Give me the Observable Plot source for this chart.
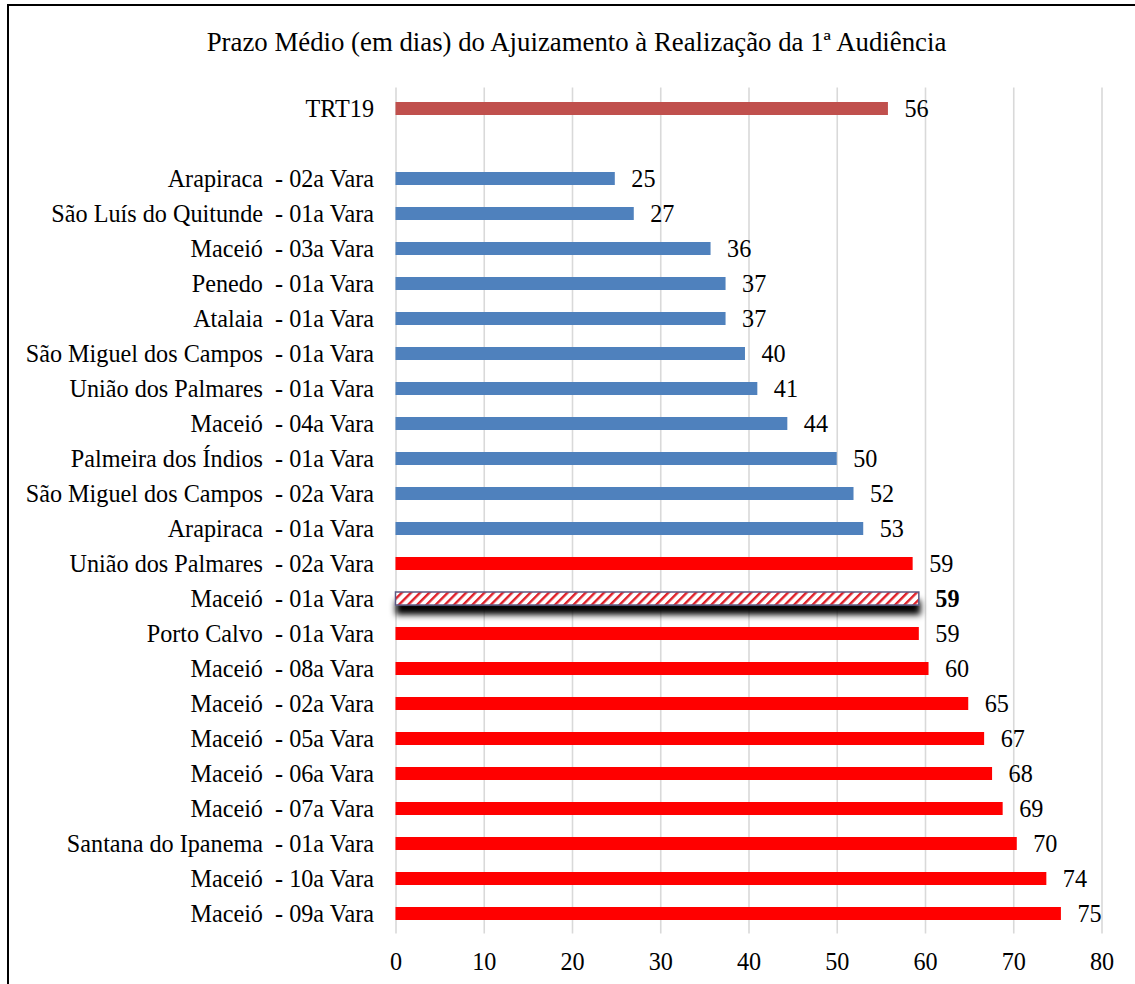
<!DOCTYPE html>
<html><head><meta charset="utf-8">
<script src="https://cdn.jsdelivr.net/npm/d3@7"></script>
<script src="https://cdn.jsdelivr.net/npm/@observablehq/plot@0.6"></script>
<style>
html,body{margin:0;padding:0;background:#fff;overflow:hidden;}
#wrap{position:relative;width:1135px;height:984px;overflow:hidden;font-family:"Liberation Serif","Times New Roman",serif;background:#fff;}
#frame{position:absolute;left:7px;top:4px;width:1400px;height:1400px;border:2.7px solid #000;box-sizing:border-box;pointer-events:none;}
#title{position:absolute;left:0;width:1153px;top:28.5px;text-align:center;font-size:26.8px;line-height:26.8px;color:#000;white-space:nowrap;}
#chart{position:absolute;left:0;top:0;}
</style>
</head><body>
<div id="wrap">
  <div id="chart"></div>
  <div id="title">Prazo Médio (em dias) do Ajuizamento à Realização da 1ª Audiência</div>
  <div id="frame"></div>
</div>
<script>
// ---- data ----
const names = [
  "TRT19",
  "Arapiraca  - 02a Vara",
  "São Luís do Quitunde  - 01a Vara",
  "Maceió  - 03a Vara",
  "Penedo  - 01a Vara",
  "Atalaia  - 01a Vara",
  "São Miguel dos Campos  - 01a Vara",
  "União dos Palmares  - 01a Vara",
  "Maceió  - 04a Vara",
  "Palmeira dos Índios  - 01a Vara",
  "São Miguel dos Campos  - 02a Vara",
  "Arapiraca  - 01a Vara",
  "União dos Palmares  - 02a Vara",
  "Maceió  - 01a Vara",
  "Porto Calvo  - 01a Vara",
  "Maceió  - 08a Vara",
  "Maceió  - 02a Vara",
  "Maceió  - 05a Vara",
  "Maceió  - 06a Vara",
  "Maceió  - 07a Vara",
  "Santana do Ipanema  - 01a Vara",
  "Maceió  - 10a Vara",
  "Maceió  - 09a Vara"
];
const values = [
  55.8,
  24.85, 27.0, 35.7, 37.4, 37.4, 39.6, 41.0, 44.4, 50.0, 51.9, 53.0,
  58.6, 59.3, 59.3, 60.4, 64.9, 66.7, 67.6, 68.8, 70.4, 73.75, 75.4
];
const groups = [
  "tribunal",
  "abaixo", "abaixo", "abaixo", "abaixo", "abaixo", "abaixo", "abaixo", "abaixo", "abaixo", "abaixo", "abaixo",
  "acima", "acima", "acima", "acima", "acima", "acima", "acima", "acima", "acima", "acima", "acima"
];
const highlighted = "Maceió  - 01a Vara";
const spacer = " ";
const xTicks = [0, 10, 20, 30, 40, 50, 60, 70, 80];

// ---- styles ----
const groupColor = {tribunal: "#C0504D", abaixo: "#4F81BD", acima: "#FF0000"};
const fmt = d3.format(".0f");

const data = names.map((name, i) => ({name, value: values[i], group: groups[i], hl: name === highlighted}));
const yDomain = [names[0], spacer, ...names.slice(1)];

const font = "'Liberation Serif','Times New Roman',serif";

const svg = Plot.plot({
  width: 1135,
  height: 984,
  marginLeft: 395.5,
  marginRight: 33.5,
  marginTop: 87.5,
  marginBottom: 50.5,
  style: {fontFamily: font, fontSize: "24.2px", color: "#000", background: "transparent", overflow: "visible"},
  x: {domain: [0, 80], ticks: xTicks, label: null},
  y: {domain: yDomain, paddingInner: 0.64, paddingOuter: 0.32, label: null},
  marks: [
    Plot.gridX(xTicks, {stroke: "#d9d9d9", strokeOpacity: 1, strokeWidth: 1.6}),
    Plot.barX(data.filter(d => !d.hl), {x: "value", y: "name", fill: d => groupColor[d.group]}),
    Plot.barX(data.filter(d => d.hl), {x: "value", y: "name", fill: "url(#hatch)", stroke: "#5c5a82", strokeWidth: 1.5}),
    Plot.text(data.filter(d => !d.hl), {x: "value", y: "name", text: d => fmt(d.value), dx: 16, textAnchor: "start", fill: "#000"}),
    Plot.text(data.filter(d => d.hl), {x: "value", y: "name", text: d => fmt(d.value), dx: 16, textAnchor: "start", fill: "#000", fontWeight: "bold"}),
    Plot.axisY({tickSize: 0, tickPadding: 22, fill: "#000", label: null}),
    Plot.axisX({ticks: xTicks, tickSize: 0, tickPadding: 19, fill: "#000", label: null})
  ]
});

const s = d3.select(svg);
s.selectAll("text").style("white-space", "pre");
const defs = s.insert("defs", ":first-child");
const pat = defs.append("pattern")
  .attr("id", "hatch").attr("patternUnits", "userSpaceOnUse")
  .attr("width", 6.5).attr("height", 6.5).attr("patternTransform", "rotate(45)");
pat.append("rect").attr("width", 6.5).attr("height", 6.5).attr("fill", "#fff");
pat.append("rect").attr("width", 2.4).attr("height", 6.5).attr("fill", "#e0202a");
const f = defs.append("filter").attr("id", "shadow")
  .attr("x", "-5%").attr("y", "-100%").attr("width", "110%").attr("height", "400%");
f.append("feGaussianBlur").attr("in", "SourceAlpha").attr("stdDeviation", 3.2);
f.append("feOffset").attr("dx", 1).attr("dy", 9).attr("result", "b");
f.append("feFlood").attr("flood-color", "#000").attr("flood-opacity", 1);
f.append("feComposite").attr("in2", "b").attr("operator", "in");
const m = f.append("feMerge");
m.append("feMergeNode");
m.append("feMergeNode").attr("in", "SourceGraphic");
s.selectAll('g[fill="url(#hatch)"]').attr("filter", "url(#shadow)");

document.getElementById("chart").appendChild(svg);
</script>
</body></html>
